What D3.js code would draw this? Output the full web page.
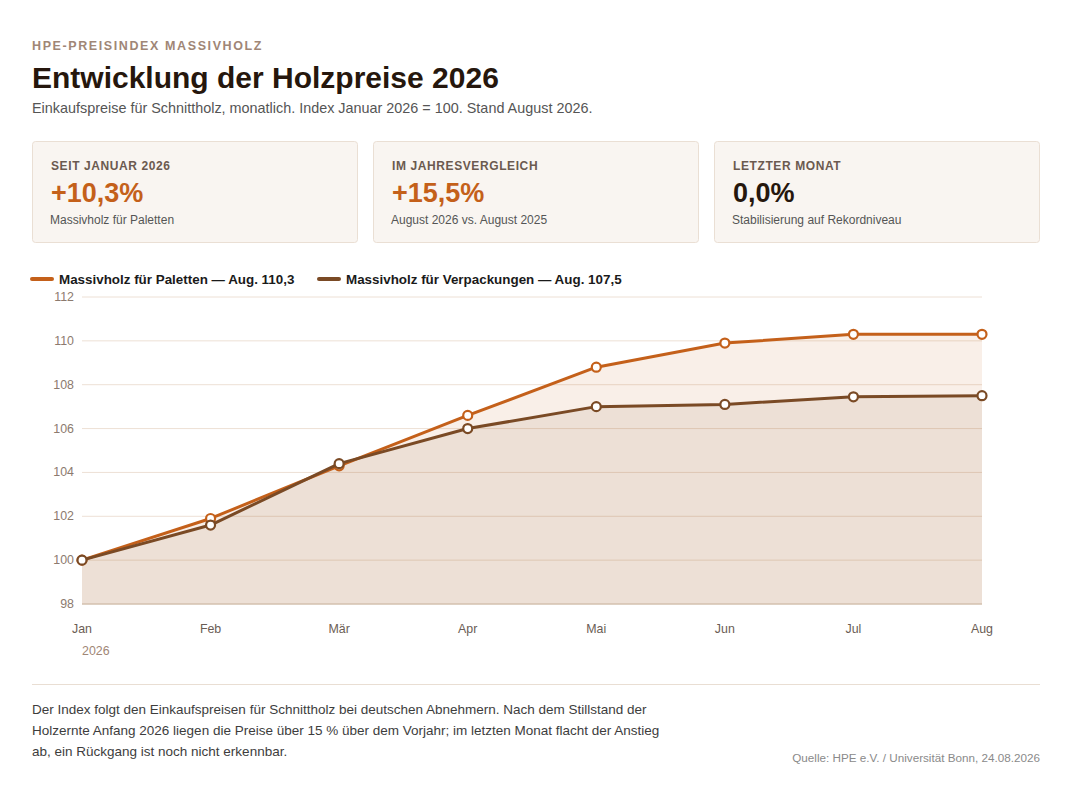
<!DOCTYPE html>
<html>
<head>
<meta charset="utf-8">
<script src="https://cdn.jsdelivr.net/npm/d3@7"></script>
<style>
  body { margin: 0; background: #fff; font-family: "Liberation Sans", Arial, sans-serif; }
  svg text { font-family: "Liberation Sans", Arial, sans-serif; }
</style>
</head>
<body>
<div id="chart"></div>
<script>
// data
const months = ["Jan", "Feb", "Mär", "Apr", "Mai", "Jun", "Jul", "Aug"];
const paletten = [100, 101.9, 104.3, 106.6, 108.8, 109.9, 110.3, 110.3];
const verpackungen = [100, 101.6, 104.4, 106.0, 107.0, 107.1, 107.45, 107.5];
const yTicks = [98, 100, 102, 104, 106, 108, 110, 112];
const seriesNames = ["Massivholz für Paletten — Aug. 110,3", "Massivholz für Verpackungen — Aug. 107,5"];
const cardLabels = ["SEIT JANUAR 2026", "IM JAHRESVERGLEICH", "LETZTER MONAT"];
const cardValues = ["+10,3%", "+15,5%", "0,0%"];
const cardNotes = ["Massivholz für Paletten", "August 2026 vs. August 2025", "Stabilisierung auf Rekordniveau"];
const footLines = [
  "Der Index folgt den Einkaufspreisen für Schnittholz bei deutschen Abnehmern. Nach dem Stillstand der",
  "Holzernte Anfang 2026 liegen die Preise über 15 % über dem Vorjahr; im letzten Monat flacht der Anstieg",
  "ab, ein Rückgang ist noch nicht erkennbar."
];

const W = 1069, H = 797;
const colPal = "#c4601a", colVer = "#7a4a25";

const svg = d3.select("#chart").append("svg")
    .attr("width", W)
    .attr("height", H);

/***** HEADER *****/
svg.append("text")
    .attr("x", 32).attr("y", 50)
    .attr("font-size", 12.5).attr("font-weight", "bold")
    .attr("letter-spacing", 1.6)
    .attr("fill", "#a08676")
    .text("HPE-PREISINDEX MASSIVHOLZ");

svg.append("text")
    .attr("x", 32).attr("y", 88)
    .attr("font-size", 30).attr("font-weight", "bold")
    .attr("fill", "#26170d")
    .text("Entwicklung der Holzpreise 2026");

svg.append("text")
    .attr("x", 32).attr("y", 113)
    .attr("font-size", 14.4)
    .attr("fill", "#555")
    .text("Einkaufspreise für Schnittholz, monatlich. Index Januar 2026 = 100. Stand August 2026.");

/***** CARDS *****/
const cardX = [32, 373, 714], cardW = 325;
const cards = svg.selectAll(".card")
    .data(cardLabels)
    .enter().append("g")
    .attr("class", "card")
    .attr("transform", (d, i) => `translate(${cardX[i]},141)`);

cards.append("rect")
    .attr("x", 0.5).attr("y", 0.5)
    .attr("width", cardW).attr("height", 101)
    .attr("rx", 3)
    .attr("fill", "#f9f5f1")
    .attr("stroke", "#eadfd4");

cards.append("text")
    .attr("x", 19).attr("y", 29)
    .attr("font-size", 12).attr("font-weight", "bold")
    .attr("letter-spacing", 0.6)
    .attr("fill", "#6b5a4f")
    .text(d => d);

cards.append("text")
    .attr("x", 19).attr("y", 61)
    .attr("font-size", 27).attr("font-weight", "bold")
    .attr("fill", (d, i) => i === 2 ? "#26170d" : colPal)
    .text((d, i) => cardValues[i]);

cards.append("text")
    .attr("x", 18).attr("y", 83)
    .attr("font-size", 12)
    .attr("fill", "#555")
    .text((d, i) => cardNotes[i]);

/***** LEGEND *****/
const legX = [32, 319];
const leg = svg.selectAll(".leg")
    .data(seriesNames)
    .enter().append("g")
    .attr("class", "leg")
    .attr("transform", (d, i) => `translate(${legX[i]},279)`);

leg.append("line")
    .attr("x1", 0).attr("x2", 20)
    .attr("stroke", (d, i) => i === 0 ? colPal : colVer)
    .attr("stroke-width", 4)
    .attr("stroke-linecap", "round");

leg.append("text")
    .attr("x", 27).attr("y", 5)
    .attr("font-size", 13.4).attr("font-weight", "bold")
    .attr("fill", "#1a1a1a")
    .text(d => d);

/***** PLOT *****/
const x = d3.scalePoint().domain(months).range([82, 982]);
const y = d3.scaleLinear().domain([98, 112]).range([604, 297]);

const plot = svg.append("g").attr("id", "plot");

// gridlines
plot.selectAll(".grid")
    .data(yTicks.filter(t => t !== 98))
    .enter().append("line")
    .attr("class", "grid")
    .attr("x1", 82).attr("x2", 982)
    .attr("y1", d => y(d)).attr("y2", d => y(d))
    .attr("stroke", "#ede0d5")
    .attr("stroke-width", 1);

const area = d3.area()
    .x((d, i) => x(months[i]))
    .y0(y(98))
    .y1(d => y(d));

plot.append("path")
    .datum(paletten)
    .attr("d", area)
    .attr("fill", colPal)
    .attr("fill-opacity", 0.1);

plot.append("path")
    .datum(verpackungen)
    .attr("d", area)
    .attr("fill", colVer)
    .attr("fill-opacity", 0.09);

// baseline
plot.append("line")
    .attr("x1", 82).attr("x2", 982)
    .attr("y1", y(98)).attr("y2", y(98))
    .attr("stroke", "#d3c0ae")
    .attr("stroke-width", 1.5);

// y axis labels
plot.selectAll(".ylab")
    .data(yTicks)
    .enter().append("text")
    .attr("class", "ylab")
    .attr("x", 74).attr("y", d => y(d) + 4)
    .attr("text-anchor", "end")
    .attr("font-size", 12.4)
    .attr("fill", "#8c7a6e")
    .text(d => d);

// x axis labels
plot.selectAll(".xlab")
    .data(months)
    .enter().append("text")
    .attr("class", "xlab")
    .attr("x", d => x(d)).attr("y", 633)
    .attr("text-anchor", "middle")
    .attr("font-size", 12.4)
    .attr("fill", "#6b5d55")
    .text(d => d);

plot.append("text")
    .attr("x", 82).attr("y", 655)
    .attr("font-size", 12.4)
    .attr("fill", "#a08676")
    .text("2026");

const line = d3.line()
    .x((d, i) => x(months[i]))
    .y(d => y(d));

[[paletten, colPal], [verpackungen, colVer]].forEach(([vals, col]) => {
    plot.append("path")
        .datum(vals)
        .attr("d", line)
        .attr("fill", "none")
        .attr("stroke", col)
        .attr("stroke-width", 3)
        .attr("stroke-linejoin", "round");

    plot.selectAll(null)
        .data(vals)
        .enter().append("circle")
        .attr("cx", (d, i) => x(months[i]))
        .attr("cy", d => y(d))
        .attr("r", 4.5)
        .attr("fill", "#fff")
        .attr("stroke", col)
        .attr("stroke-width", 2.2);
});

/***** FOOTER *****/
svg.append("line")
    .attr("x1", 32).attr("x2", 1040)
    .attr("y1", 684.5).attr("y2", 684.5)
    .attr("stroke", "#e9ded3");

svg.selectAll(".foot")
    .data(footLines)
    .enter().append("text")
    .attr("class", "foot")
    .attr("x", 32).attr("y", (d, i) => 714 + i * 21)
    .attr("font-size", 13.5)
    .attr("fill", "#3d3d3d")
    .text(d => d);

svg.append("text")
    .attr("x", 1040).attr("y", 762)
    .attr("text-anchor", "end")
    .attr("font-size", 11.7)
    .attr("fill", "#8a8a8a")
    .text("Quelle: HPE e.V. / Universität Bonn, 24.08.2026");
</script>
</body>
</html>
